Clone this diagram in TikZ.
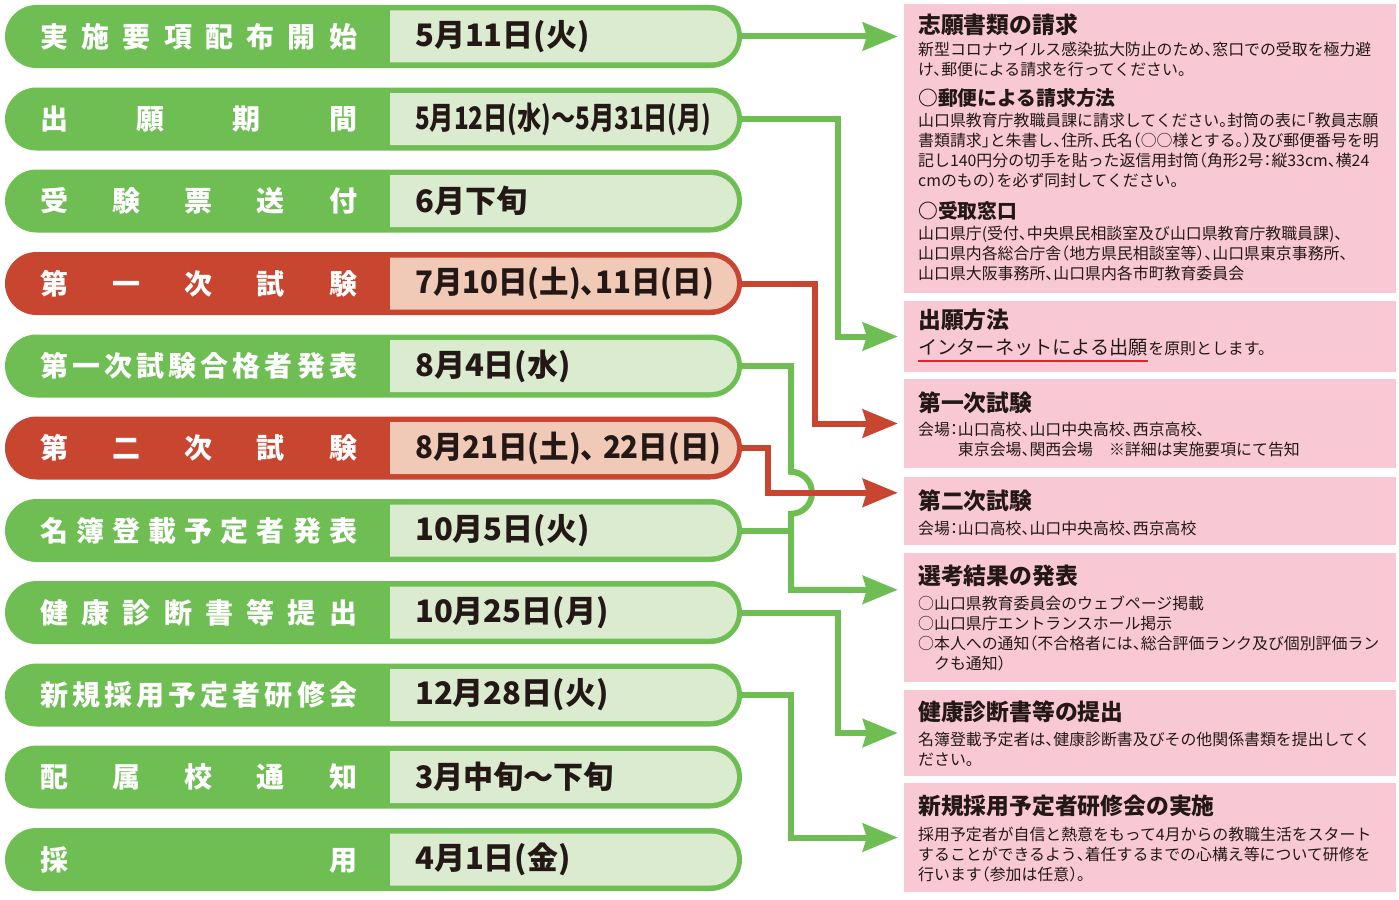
\documentclass[tikz,border=0pt]{standalone}
\usepackage{fontspec}
\setmainfont{Noto Sans CJK JP}[RawFeature=+halt]
\usepackage{graphicx}
\usepackage{tikz}
\usetikzlibrary{arrows.meta,shapes.misc,calc}
\definecolor{kgreen}{HTML}{6EBE54}
\definecolor{kgreenl}{HTML}{DAEBD0}
\definecolor{kred}{HTML}{C8452F}
\definecolor{kredl}{HTML}{F1C9B7}
\definecolor{kpink}{HTML}{F8C9D4}
\definecolor{kline}{HTML}{E8202A}
\definecolor{ink}{HTML}{231815}

\begin{document}
\begin{tikzpicture}[x=1pt,y=-1pt,
  pill/.style={rounded rectangle,minimum width=737pt,minimum height=63pt,inner sep=0},
  pillin/.style={rounded rectangle,rounded rectangle west arc=none,minimum width=347pt,minimum height=52pt,inner sep=0},
  lab/.style={anchor=west,inner sep=0,text=white,font=\fontsize{28}{30}\selectfont\bfseries},
  dat/.style={anchor=west,inner sep=0,text=ink,font=\fontsize{31}{33}\selectfont\bfseries},
  info/.style={rectangle,fill=kpink,minimum width=492pt,inner sep=0},
  ttl/.style={anchor=base west,inner sep=0,text=ink,font=\fontsize{22.8}{24}\selectfont\bfseries},
  subttl/.style={anchor=base west,inner sep=0,text=ink,font=\fontsize{19.8}{22}\selectfont\bfseries},
  txt/.style={anchor=base west,inner sep=0,align=left,text=ink,font=\fontsize{15.9}{20.3}\selectfont},
  gl/.style={draw=kgreen,line width=6pt},
  rl/.style={draw=kred,line width=6pt},
  arr/.style={-{Stealth[length=35pt,width=28pt,inset=4pt]},shorten >=6pt}]
\useasboundingbox (0,0) rectangle (1399,899);

\node[info,minimum height=289pt] (b1) at (1150,148.5) {};
\node[info,minimum height=71pt] (b2) at (1150,336.5) {};
\node[info,minimum height=89pt] (b3) at (1150,423.5) {};
\node[info,minimum height=68pt] (b4) at (1150,511) {};
\node[info,minimum height=129pt] (b5) at (1150,617.5) {};
\node[info,minimum height=86pt] (b6) at (1150,733) {};
\node[info,minimum height=109pt] (b7) at (1150,837.5) {};

\foreach \n/\yy/\dk/\lt/\lab/\dat in {
  1/36.5/kgreen/kgreenl/{実\hfill 施\hfill 要\hfill 項\hfill 配\hfill 布\hfill 開\hfill 始}/{5月11日(火)},
  2/119/kgreen/kgreenl/{出\hfill 願\hfill 期\hfill 間}/{\scalebox{0.78}[1]{5月12日(水)～5月31日(月)}},
  3/201/kgreen/kgreenl/{受\hfill 験\hfill 票\hfill 送\hfill 付}/{6月下旬},
  4/283.5/kred/kredl/{第\hfill 一\hfill 次\hfill 試\hfill 験}/{\scalebox{0.95}[1]{7月10日(土)、11日(日)}},
  5/366/kgreen/kgreenl/{第\hfill 一\hfill 次\hfill 試\hfill 験\hfill 合\hfill 格\hfill 者\hfill 発\hfill 表}/{8月4日(水)},
  6/448/kred/kredl/{第\hfill 二\hfill 次\hfill 試\hfill 験}/{\scalebox{0.95}[1]{8月21日(土)、\hspace{.25em}22日(日)}},
  7/530.5/kgreen/kgreenl/{名\hfill 簿\hfill 登\hfill 載\hfill 予\hfill 定\hfill 者\hfill 発\hfill 表}/{10月5日(火)},
  8/612.5/kgreen/kgreenl/{健\hfill 康\hfill 診\hfill 断\hfill 書\hfill 等\hfill 提\hfill 出}/{10月25日(月)},
  9/695/kgreen/kgreenl/{新\hfill 規\hfill 採\hfill 用\hfill 予\hfill 定\hfill 者\hfill 研\hfill 修\hfill 会}/{12月28日(火)},
  10/777/kgreen/kgreenl/{配\hfill 属\hfill 校\hfill 通\hfill 知}/{\scalebox{0.97}[1]{3月中旬～下旬}},
  11/859.5/kgreen/kgreenl/{採\hfill 用}/{4月1日(金)}}
{
  \node[pill,fill=\dk] (r\n) at (373.5,\yy) {};
  \node[pillin,fill=\lt] (s\n) at (563.5,\yy) {};
  \node[lab] (l\n) at (40,\yy) {\makebox[317pt][l]{\lab}};
  \node[dat] (d\n) at (415,\yy) {\dat};
}

\node[ttl] (t1) at (918,34) {志願書類の請求};
\node[txt] (t1a) at (918,75.3) {新型コロナウイルス感染拡大防止のため、窓口での受取を極力避\\け、郵便による請求を行ってください。};
\node[subttl] (t1b) at (918,105) {○郵便による請求方法};
\node[txt] (t1c) at (918,186.9) {山口県教育庁教職員課に請求してください。封筒の表に「教員志願\\書類請求」と朱書し、住所、氏名（○○様とする。）及び郵便番号を明\\記し140円分の切手を貼った返信用封筒（角形2号：縦33cm、横24\\cmのもの）を必ず同封してください。};
\node[subttl] (t1d) at (918,218) {○受取窓口};
\node[txt] (t1e) at (918,279.6) {山口県庁(受付、中央県民相談室及び山口県教育庁教職員課)、\\山口県内各総合庁舎（地方県民相談室等）、山口県東京事務所、\\山口県大阪事務所、山口県内各市町教育委員会};

\node[ttl] (t2) at (918,328) {出願方法};
\node[anchor=base west,inner sep=0,text=ink,font=\fontsize{19.2}{20}\selectfont] (t2a) at (918,354) {インターネットによる出願};
\node[txt] (t2b) at (t2a.base east) {を原則とします。};
\draw[kline,line width=2pt] ([yshift=-6.5pt]t2a.base west) -- ([yshift=-6.5pt]t2a.base east);

\node[ttl] (t3) at (918,411) {第一次試験};
\node[txt] (t3a) at (918,455.3) {会場：山口高校、山口中央高校、西京高校、\\\hphantom{会場：}東京会場、関西会場　※詳細は実施要項にて告知};

\node[ttl] (t4) at (918,509) {第二次試験};
\node[txt] (t4a) at (918,534) {会場：山口高校、山口中央高校、西京高校};

\node[ttl] (t5) at (918,584) {選考結果の発表};
\node[txt] (t5a) at (918,669.9) {○山口県教育委員会のウェブページ掲載\\○山口県庁エントランスホール掲示\\○本人への通知（不合格者には、総合評価ランク及び個別評価ラン\\　クも通知）};

\node[ttl] (t6) at (918,720) {健康診断書等の提出};
\node[txt] (t6a) at (918,765.3) {名簿登載予定者は、健康診断書及びその他関係書類を提出してく\\ださい。};

\node[ttl] (t7) at (918,814) {新規採用予定者研修会の実施};
\node[txt] (t7a) at (918,880.6) {採用予定者が自信と熱意をもって4月からの教職生活をスタート\\することができるよう、着任するまでの心構え等について研修を\\行います（参加は任意）。};

\coordinate (k2) at (838,0);
\coordinate (k4) at (815,0);
\coordinate (k5) at (791,0);
\coordinate (k6) at (768,0);
\coordinate (a4) at ([yshift=-16pt]b4.north west);
\coordinate (a5) at ([yshift=-37pt]b5.north west);

\draw[gl,arr] (r1.east) -- (r1.east -| b1.west);
\draw[gl,arr] (r2.east) -| (k2 |- b2.west) -- (b2.west);
\draw[gl,arr] (r5.east) -| ($(k5 |- a4)+(0,-21)$) arc (90:-90:21pt) |- (a5);
\draw[gl] (r7.east) -- (r7.east -| k5);
\draw[gl,arr] (r8.east) -| (k2 |- b6.west) -- (b6.west);
\draw[gl,arr] (r9.east) -| (k5 |- b7.west) -- (b7.west);
\draw[rl,arr] (r4.east) -| (k4 |- b3.west) -- (b3.west);
\draw[rl,arr] (r6.east) -| (k6 |- a4) -- (a4);
\end{tikzpicture}
\end{document}
